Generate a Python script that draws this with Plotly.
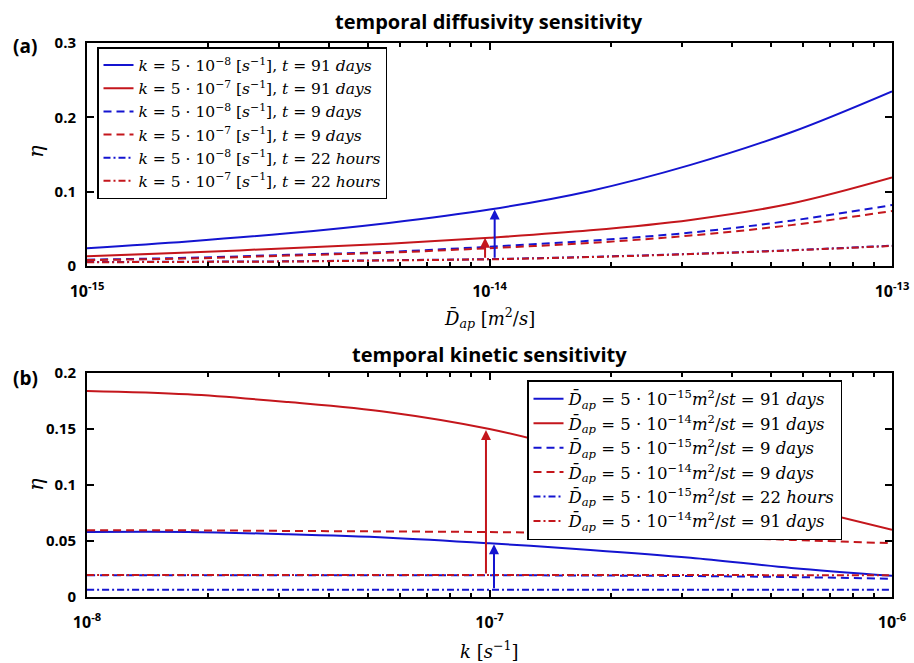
import numpy as np
import plotly.graph_objects as go

# ---------------- data (a): temporal diffusivity sensitivity ----------------
D_vals = [1e-15, 1.78e-15, 3.16e-15, 5.62e-15, 1e-14, 1.78e-14, 3.16e-14, 5.62e-14, 1e-13]
a_k8_91d = [0.024, 0.033, 0.044, 0.058, 0.076, 0.101, 0.136, 0.180, 0.235]
a_k7_91d = [0.013, 0.018, 0.024, 0.030, 0.038, 0.048, 0.062, 0.084, 0.119]
a_k8_9d = [0.0085, 0.011, 0.015, 0.019, 0.026, 0.034, 0.045, 0.061, 0.082]
a_k7_9d = [0.008, 0.010, 0.014, 0.018, 0.024, 0.031, 0.041, 0.055, 0.074]
a_k8_22h = [0.0053, 0.0058, 0.0063, 0.0078, 0.0093, 0.0123, 0.0163, 0.0213, 0.0273]
a_k7_22h = [0.005, 0.0055, 0.006, 0.0075, 0.009, 0.012, 0.016, 0.021, 0.027]
a_names = [
    "<i>k</i> = 5 · 10<sup>−8</sup> [<i>s</i><sup>−1</sup>], <i>t</i> = 91 <i>days</i>",
    "<i>k</i> = 5 · 10<sup>−7</sup> [<i>s</i><sup>−1</sup>], <i>t</i> = 91 <i>days</i>",
    "<i>k</i> = 5 · 10<sup>−8</sup> [<i>s</i><sup>−1</sup>], <i>t</i> = 9 <i>days</i>",
    "<i>k</i> = 5 · 10<sup>−7</sup> [<i>s</i><sup>−1</sup>], <i>t</i> = 9 <i>days</i>",
    "<i>k</i> = 5 · 10<sup>−8</sup> [<i>s</i><sup>−1</sup>], <i>t</i> = 22 <i>hours</i>",
    "<i>k</i> = 5 · 10<sup>−7</sup> [<i>s</i><sup>−1</sup>], <i>t</i> = 22 <i>hours</i>",
]
# arrows (a): x position, from, to
a_arrows = [(9.75e-15, 0.009, 0.038, "red"), (1.03e-14, 0.009, 0.076, "blue")]
a_xticks = [1e-15, 1e-14, 1e-13]
a_xticktext = ["10<sup>-15</sup>", "10<sup>-14</sup>", "10<sup>-13</sup>"]
a_yticks = [0, 0.1, 0.2, 0.3]
a_yticktext = ["0", "0.1", "0.2", "0.3"]

# ---------------- data (b): temporal kinetic sensitivity ----------------
k_vals = [1e-8, 1.78e-8, 3.16e-8, 5.62e-8, 1e-7, 1.78e-7, 3.16e-7, 5.62e-7, 1e-6]
b_d15_91d = [0.058, 0.058, 0.056, 0.053, 0.048, 0.042, 0.035, 0.026, 0.019]
b_d14_91d = [0.184, 0.181, 0.174, 0.165, 0.150, 0.128, 0.105, 0.082, 0.060]
b_d15_9d = [0.0195, 0.0195, 0.0195, 0.0195, 0.0194, 0.0192, 0.0187, 0.0178, 0.0163]
b_d14_9d = [0.0595, 0.0595, 0.059, 0.0585, 0.058, 0.0565, 0.054, 0.051, 0.048]
b_d15_22h = [0.0065, 0.0065, 0.0065, 0.0065, 0.0065, 0.0065, 0.0065, 0.0065, 0.0065]
b_d14_22h = [0.0196, 0.0196, 0.0196, 0.0196, 0.0196, 0.0196, 0.0196, 0.0195, 0.0194]
b_names = [
    "<i>D̄</i><sub><i>ap</i></sub> = 5 · 10<sup>−15</sup><i>m</i><sup>2</sup>/<i>st</i> = 91 <i>days</i>",
    "<i>D̄</i><sub><i>ap</i></sub> = 5 · 10<sup>−14</sup><i>m</i><sup>2</sup>/<i>st</i> = 91 <i>days</i>",
    "<i>D̄</i><sub><i>ap</i></sub> = 5 · 10<sup>−15</sup><i>m</i><sup>2</sup>/<i>st</i> = 9 <i>days</i>",
    "<i>D̄</i><sub><i>ap</i></sub> = 5 · 10<sup>−14</sup><i>m</i><sup>2</sup>/<i>st</i> = 9 <i>days</i>",
    "<i>D̄</i><sub><i>ap</i></sub> = 5 · 10<sup>−15</sup><i>m</i><sup>2</sup>/<i>st</i> = 22 <i>hours</i>",
    "<i>D̄</i><sub><i>ap</i></sub> = 5 · 10<sup>−14</sup><i>m</i><sup>2</sup>/<i>st</i> = 91 <i>days</i>",
]
b_arrows = [(9.8e-8, 0.0196, 0.149, "red"), (1.026e-7, 0.0065, 0.047, "blue")]
b_xticks = [1e-8, 1e-7, 1e-6]
b_xticktext = ["10<sup>-8</sup>", "10<sup>-7</sup>", "10<sup>-6</sup>"]
b_yticks = [0, 0.05, 0.1, 0.15, 0.2]
b_yticktext = ["0", "0.05", "0.1", "0.15", "0.2"]

# ---------------- styling ----------------
BLUE = "#1414d0"
RED = "#c4161c"
colors = [BLUE, RED, BLUE, RED, BLUE, RED]
DASH = "8px,5px"
DASHDOT = "7px,3px,2px,3px"
dashes = ["solid", "solid", DASH, DASH, DASHDOT, DASHDOT]
SERIF = "DejaVu Serif"
SANS = "Open Sans"

fig = go.Figure()

a_series = [a_k8_91d, a_k7_91d, a_k8_9d, a_k7_9d, a_k8_22h, a_k7_22h]
b_series = [b_d15_91d, b_d14_91d, b_d15_9d, b_d14_9d, b_d15_22h, b_d14_22h]

for ys, nm, c, d in zip(a_series, a_names, colors, dashes):
    fig.add_trace(go.Scatter(x=D_vals, y=ys, name=nm, mode="lines",
                             line=dict(color=c, width=2, dash=d, shape="spline"),
                             xaxis="x", yaxis="y", legend="legend"))
for ys, nm, c, d in zip(b_series, b_names, colors, dashes):
    fig.add_trace(go.Scatter(x=k_vals, y=ys, name=nm, mode="lines",
                             line=dict(color=c, width=2, dash=d, shape="spline"),
                             xaxis="x2", yaxis="y2", legend="legend2"))

ann = []
for (xv, y0, y1, cn), (xr, yr) in [(a, ("x", "y")) for a in a_arrows] + [(b, ("x2", "y2")) for b in b_arrows]:
    col = RED if cn == "red" else BLUE
    ann.append(dict(x=np.log10(xv), y=y1, ax=np.log10(xv), ay=y0, xref=xr, yref=yr,
                    axref=xr, ayref=yr, showarrow=True, arrowhead=2, arrowsize=1,
                    arrowwidth=2, arrowcolor=col, text=""))


def label(text, px, py, size, family, angle=0):
    return dict(text=text, x=px / 914, y=1 - py / 663, xref="paper", yref="paper",
                xanchor="center", yanchor="middle", textangle=angle,
                showarrow=False, font=dict(family=family, size=size, color="black"))


ann += [
    label("<b>temporal diffusivity sensitivity</b>", 489, 22, 20, SANS),
    label("<b>temporal kinetic sensitivity</b>", 489, 354, 20, SANS),
    label("<b>(a)</b>", 25, 46, 19, SANS),
    label("<b>(b)</b>", 25, 378, 19, SANS),
    label("<i>η</i>", 36, 152, 21, SERIF, -90),
    label("<i>η</i>", 36, 485, 21, SERIF, -90),
    label("<i>D̄</i><sub><i>ap</i></sub> [<i>m</i><sup>2</sup>/<i>s</i>]", 489, 318, 18, SERIF),
    label("<i>k</i> [<i>s</i><sup>−1</sup>]", 489, 650, 18, SERIF),
]


def xaxis(ticks, text, dom_y_anchor):
    lo, hi = np.log10(ticks[0]), np.log10(ticks[-1])
    minor_vals = [m * 10.0 ** e for e in range(int(lo), int(hi)) for m in range(2, 10)]
    return dict(type="log", range=[lo, hi], domain=[87 / 914, 892 / 914], anchor=dom_y_anchor,
                tickvals=ticks, ticktext=["<b>" + t + "</b>" for t in text],
                ticks="inside", ticklen=7, tickwidth=2, tickcolor="black",
                showline=True, linewidth=2, linecolor="black", mirror="ticks",
                showgrid=False, zeroline=False, ticklabelstandoff=10, automargin=False,
                tickfont=dict(family=SANS, size=16, color="black"),
                minor=dict(tickvals=minor_vals, ticks="inside", ticklen=4, tickwidth=1.5,
                           tickcolor="black", showgrid=False))


def yaxis(ticks, text, dom, xanchor):
    return dict(range=[ticks[0], ticks[-1]], domain=dom, anchor=xanchor,
                tickvals=ticks, ticktext=["<b>" + t + "</b>" for t in text],
                ticks="inside", ticklen=7, tickwidth=2, tickcolor="black",
                showline=True, linewidth=2, linecolor="black", mirror="ticks",
                showgrid=False, zeroline=False, ticklabelstandoff=6, automargin=False,
                tickfont=dict(family=SANS, size=15, color="black"))


fig.update_layout(
    width=914, height=663, margin=dict(l=0, r=0, t=0, b=0, autoexpand=False),
    paper_bgcolor="white", plot_bgcolor="white",
    xaxis=xaxis(a_xticks, a_xticktext, "y"),
    yaxis=yaxis(a_yticks, a_yticktext, [1 - 266 / 663, 1 - 43 / 663], "x"),
    xaxis2=xaxis(b_xticks, b_xticktext, "y2"),
    yaxis2=yaxis(b_yticks, b_yticktext, [1 - 597 / 663, 1 - 373 / 663], "x2"),
    legend=dict(x=97 / 914, y=1 - 47 / 663, xanchor="left", yanchor="top",
                bgcolor="white", bordercolor="black", borderwidth=1.5,
                font=dict(family=SERIF, size=15.5, color="black"), tracegroupgap=0, itemwidth=30),
    legend2=dict(x=527 / 914, y=1 - 380 / 663, xanchor="left", yanchor="top",
                 bgcolor="white", bordercolor="black", borderwidth=1.5,
                 font=dict(family=SERIF, size=16.5, color="black"), tracegroupgap=0, itemwidth=30),
    annotations=ann, showlegend=True,
)

fig.write_html("out.html", config={"displayModeBar": False},
               post_script="document.body.style.margin='0px';document.body.style.overflow='hidden';")
